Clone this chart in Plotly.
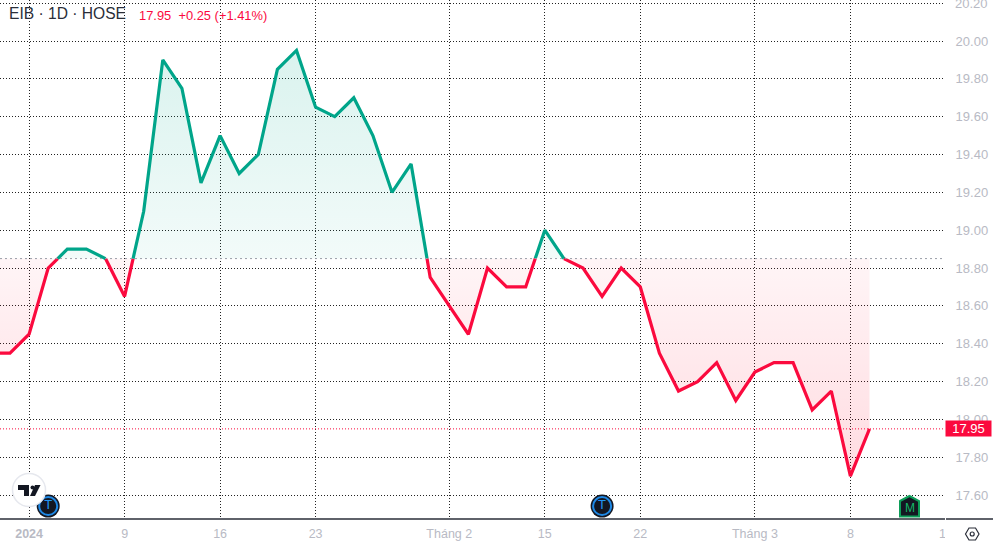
import numpy as np
import plotly.graph_objects as go

# ---- data ----
sessions = ["12-28","12-29","01-02","01-03","01-04","01-05","01-08","01-09","01-10","01-11","01-12","01-15",
            "01-16","01-17","01-18","01-19","01-22","01-23","01-24","01-25","01-26","01-29","01-30","01-31",
            "02-01","02-02","02-05","02-06","02-07","02-15","02-16","02-19","02-20","02-21","02-22","02-23",
            "02-26","02-27","02-28","02-29","03-01","03-04","03-05","03-06","03-07","03-08","03-11"]
close = [18.35,18.35,18.45,18.80,18.90,18.90,18.85,18.65,19.10,19.90,19.75,19.25,
         19.50,19.30,19.40,19.85,19.95,19.65,19.60,19.70,19.50,19.20,19.35,18.75,
         18.60,18.45,18.80,18.70,18.70,19.00,18.85,18.80,18.65,18.80,18.70,18.35,
         18.15,18.20,18.30,18.10,18.25,18.30,18.30,18.05,18.15,17.70,17.95]
baseline_value = 18.85
tick_sessions = ["01-02","01-09","01-16","01-23","02-01","02-15","02-22","03-01","03-08"]
tick_labels = ["<b>2024</b>","9","16","23","Tháng 2","15","22","Tháng 3","8"]
future_tick_index = 49.0  # clipped "15" of March, 5 sessions after the 8th
future_tick_label = "15"
earnings_sessions = ["01-03","02-20"]
earnings_label = "T"
title_text = "EIB · 1D · HOSE"
quote_text = "17.95  +0.25 (+1.41%)"

# ---- style ----
W, H = 993, 546
GREEN = "#00a58a"
RED = "#fb0a3e"
MUTED = "#b8bac4"
DARK = "#2a2e39"
PLOT_R = 948
PLOT_B = 519
def fx(px): return px / PLOT_R
def fy(py): return 1 - py / PLOT_B

idx = np.arange(len(close)) - 1.0
vals = np.array(close)

# insert baseline crossings so the colour changes exactly on the baseline
dx, dy = [], []
for i in range(len(vals)):
    dx.append(idx[i]); dy.append(vals[i])
    if i < len(vals) - 1 and (vals[i] - baseline_value) * (vals[i + 1] - baseline_value) < 0:
        t = (baseline_value - vals[i]) / (vals[i + 1] - vals[i])
        dx.append(idx[i] + t); dy.append(baseline_value)
dx = np.array(dx); dy = np.array(dy)
up = np.where(dy >= baseline_value, dy, baseline_value)
down = np.where(dy <= baseline_value, dy, baseline_value)
line_up = [v if v >= baseline_value else None for v in dy]
line_dn = [v if v <= baseline_value else None for v in dy]
base = [baseline_value] * len(dx)

fig = go.Figure()
fig.add_trace(go.Scatter(x=dx, y=base, mode="lines", line=dict(width=0), hoverinfo="skip", showlegend=False))
fig.add_trace(go.Scatter(x=dx, y=up, mode="lines", line=dict(width=0), fill="tonexty",
    fillgradient=dict(type="vertical", start=20.0, stop=baseline_value,
        colorscale=[[0, "rgba(0,170,140,0.15)"], [1, "rgba(0,170,140,0.05)"]]),
    hoverinfo="skip", showlegend=False))
fig.add_trace(go.Scatter(x=dx, y=base, mode="lines", line=dict(width=0), hoverinfo="skip", showlegend=False))
fig.add_trace(go.Scatter(x=dx, y=down, mode="lines", line=dict(width=0), fill="tonexty",
    fillgradient=dict(type="vertical", start=17.7, stop=baseline_value,
        colorscale=[[0, "rgba(255,0,40,0.14)"], [1, "rgba(255,0,40,0.04)"]]),
    hoverinfo="skip", showlegend=False))
fig.add_trace(go.Scatter(x=dx, y=line_dn, mode="lines", line=dict(color=RED, width=3.2),
                         connectgaps=False, showlegend=False))
fig.add_trace(go.Scatter(x=dx, y=line_up, mode="lines", line=dict(color=GREEN, width=3.2),
                         connectgaps=False, showlegend=False))

ev_x = [sessions.index(s) - 1 for s in earnings_sessions]
fig.add_trace(go.Scatter(x=ev_x, y=[17.542] * len(ev_x), mode="markers",
    marker=dict(size=23, color="#131722"), showlegend=False, cliponaxis=False))
fig.add_trace(go.Scatter(x=ev_x, y=[17.542] * len(ev_x), mode="markers+text",
    text=[earnings_label] * len(ev_x), textposition="middle center",
    textfont=dict(family="Liberation Sans", size=13, color="#2196f3"),
    marker=dict(size=18, color="#131722", line=dict(color="#1e88e5", width=2)),
    showlegend=False, cliponaxis=False))

tickvals = [sessions.index(s) - 1 for s in tick_sessions] + [future_tick_index]
ticktext = tick_labels + [future_tick_label]

def path(points):
    return "M " + " L ".join(f"{fx(x):.5f} {fy(y):.5f}" for x, y in points) + " Z"

P = dict(xref="paper", yref="paper", layer="above")
fig.add_shape(type="line", xref="paper", x0=0, x1=fx(945), yref="y", y0=baseline_value, y1=baseline_value,
              line=dict(color="#9a9ea8", width=1, dash="2px,3px"), layer="above")
fig.add_shape(type="line", xref="paper", x0=0, x1=fx(945), yref="y", y0=close[-1], y1=close[-1],
              line=dict(color=RED, width=1, dash="1px,2px"), layer="above")
fig.add_shape(type="rect", x0=fx(945), x1=fx(993), y0=fy(546), y1=fy(519), fillcolor="white", line_width=0, **P)
fig.add_shape(type="rect", x0=fx(945), x1=fx(949), y0=fy(519), y1=fy(0), fillcolor="white", line_width=0, **P)
fig.add_shape(type="line", x0=0, x1=fx(945), y0=fy(519), y1=fy(519), line=dict(color=DARK, width=1.5), **P)
fig.add_shape(type="line", x0=fx(946), x1=fx(993), y0=fy(519), y1=fy(519), line=dict(color=DARK, width=1.5), **P)
# logo badge
fig.add_shape(type="circle", x0=fx(12.5), x1=fx(45.5), y0=fy(506.5), y1=fy(473.5),
              fillcolor="white", line=dict(color="#e6e8ee", width=1.5), **P)
for pts in [
    [(18,485),(29,485),(29,496),(24,496),(24,490),(18,490)],
    [(35,485),(40.5,485),(35,496),(30,496)],
]:
    fig.add_shape(type="path", path=path(pts), fillcolor="#131722", line_width=0, **P)
fig.add_shape(type="circle", x0=fx(30.5), x1=fx(34.5), y0=fy(489.5), y1=fy(485.5),
              fillcolor="#131722", line_width=0, **P)
# "M" badge
fig.add_shape(type="path", path=path([(900,501),(909.5,496),(919,501),(919,516.5),(900,516.5)]),
              fillcolor="#131722", line=dict(color="#0d9d58", width=2), **P)
# settings icon
fig.add_shape(type="path", path=path([(965.5,534),(969,528),(975.5,528),(979,534),(975.5,540),(969,540)]),
              fillcolor="white", line=dict(color=DARK, width=1.2), **P)
fig.add_shape(type="circle", x0=fx(970.2), x1=fx(974.2), y0=fy(536), y1=fy(532),
              fillcolor="white", line=dict(color=DARK, width=1.2), **P)

annotations = [
    dict(text=title_text, xref="paper", yref="paper", x=fx(7), y=fy(13), xanchor="left", yanchor="middle",
         showarrow=False, font=dict(family="Liberation Sans", size=15.6, color=DARK)),
    dict(text=quote_text, xref="paper", yref="paper", x=fx(137), y=fy(15), xanchor="left", yanchor="middle",
         showarrow=False, font=dict(family="Liberation Sans", size=12.9, color=RED)),
    dict(text="20.20", xref="paper", yref="y", x=fx(953), y=20.2, xanchor="left", yanchor="middle",
         showarrow=False, font=dict(family="Liberation Sans", size=13, color=MUTED)),
    dict(text=f"{close[-1]:.2f}", xref="paper", yref="y", x=fx(968.5), y=close[-1], xanchor="center", yanchor="middle",
         showarrow=False, font=dict(family="Liberation Sans", size=13, color="white"),
         bgcolor=RED, width=45, height=15, borderpad=0),
    dict(text="M", xref="paper", yref="paper", x=fx(909.5), y=fy(507.5), xanchor="center", yanchor="middle",
         showarrow=False, font=dict(family="Liberation Sans", size=12, color="#14b866")),
]

fig.update_layout(
    width=W, height=H, autosize=False, margin=dict(l=0, r=W - PLOT_R, t=0, b=H - PLOT_B),
    paper_bgcolor="white", plot_bgcolor="white", showlegend=False, annotations=annotations,
    hovermode=False,
    xaxis=dict(range=[-0.5236, -0.5236 + PLOT_R / 19.1], tickmode="array", tickvals=tickvals, ticktext=ticktext,
               showgrid=True, gridcolor="#222222", griddash="1px,2px", gridwidth=1, zeroline=False,
               showline=False, ticks="outside", ticklen=3, tickcolor="rgba(0,0,0,0)",
               tickfont=dict(family="Liberation Sans", size=12.5, color=MUTED), tickangle=0),
    yaxis=dict(side="right", range=[20 - (519 - 41) / 189.2, 20 + 41 / 189.2], tick0=17.6, dtick=0.2,
               tickformat=".2f", showgrid=True, gridcolor="#222222", griddash="1px,2px", gridwidth=1, zeroline=False,
               showline=False, ticks="outside", ticklen=4, tickcolor="rgba(0,0,0,0)",
               tickfont=dict(family="Liberation Sans", size=13, color=MUTED)),
)
fig.write_html("out.html", config={"displayModeBar": False},
               post_script="document.body.style.margin='0';document.body.style.overflow='hidden';")
